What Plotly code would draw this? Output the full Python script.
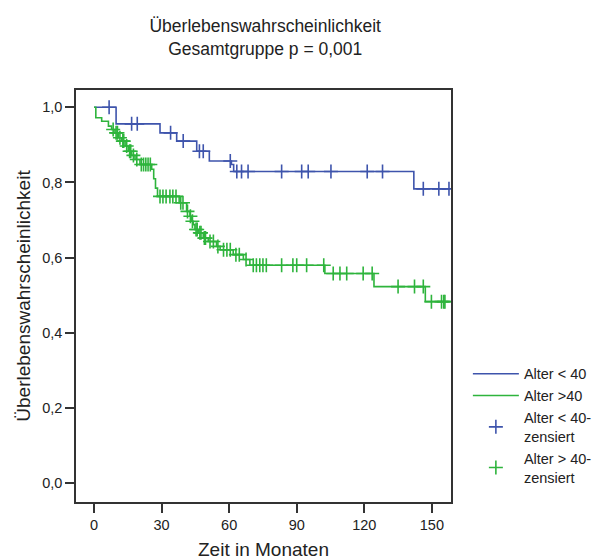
import numpy as np
import plotly.graph_objects as go

# Kaplan-Meier step estimates (time in months, survival after the step)
young_step_t = [0, 9.8, 29.3, 36.7, 45.6, 51.2, 61.0, 62.0, 142.0]
young_step_s = [1.0, 0.956, 0.932, 0.910, 0.883, 0.857, 0.848, 0.829, 0.783]
young_end = 158.0
young_cens = [6.7, 16.7, 19.2, 34.0, 39.6, 46.8, 48.5, 60.5, 63.4, 65.5, 68.4,
              83.3, 92.2, 95.1, 105.2, 121.3, 128.1, 146.2, 153.1, 157.6]

old_step_t = [0, 0.8, 3.4, 6.4, 7.8, 9.3, 10.8, 12.3, 13.8, 15.2, 16.7, 18.2,
              20.4, 25.6, 26.5, 27.3, 28.2, 37.8, 41.1, 42.6, 43.3, 44.1, 44.8,
              46.3, 48.5, 50.7, 54.4, 56.0, 61.8, 66.3, 69.2, 102.5, 124.3, 147.1]
old_step_s = [1.0, 0.972, 0.963, 0.950, 0.941, 0.932, 0.919, 0.910, 0.897, 0.883,
              0.872, 0.861, 0.848, 0.835, 0.810, 0.785, 0.763, 0.746, 0.723, 0.710,
              0.697, 0.688, 0.675, 0.666, 0.652, 0.643, 0.630, 0.621, 0.608, 0.595,
              0.580, 0.558, 0.523, 0.483]
old_end = 158.0
old_cens = [8.5, 9.8, 10.4, 11.5, 12.8, 13.2, 14.5, 15.8, 16.3, 17.5, 19.0, 21.0,
            22.0, 23.0, 24.0, 25.0, 29.3, 30.6, 32.0, 33.7, 35.0, 36.4, 38.5, 39.5,
            41.5, 42.8, 43.7, 45.3, 45.8, 47.0, 47.5, 49.0, 49.5, 51.5, 53.0, 55.0,
            57.5, 59.0, 60.5, 63.0, 64.5, 67.5, 70.7, 72.1, 73.6, 75.0, 76.5, 83.3,
            88.3, 90.0, 94.4, 102.0, 106.2, 109.2, 112.2, 119.5, 123.5, 135.0, 142.3,
            146.2, 149.8, 154.3, 155.3, 155.8]

x_ticks = [0, 30, 60, 90, 120, 150]
y_ticks = [0.0, 0.2, 0.4, 0.6, 0.8, 1.0]

BLUE = "rgb(62,84,172)"
GREEN = "rgb(46,180,60)"
FONT = "Liberation Sans, Arial, sans-serif"


def step_value(times, surv, t):
    idx = np.searchsorted(np.asarray(times), t, side="right") - 1
    return surv[max(idx, 0)]


fig = go.Figure()

for name, st, ss, end, col in [("Alter < 40", young_step_t, young_step_s, young_end, BLUE),
                               ("Alter >40", old_step_t, old_step_s, old_end, GREEN)]:
    fig.add_trace(go.Scatter(
        x=list(st) + [end], y=list(ss) + [ss[-1]],
        mode="lines", line=dict(color=col, width=1.6, shape="hv"),
        name=name, hoverinfo="skip"))

for name, st, ss, cens, col in [("Alter < 40-<br>zensiert", young_step_t, young_step_s, young_cens, BLUE),
                                ("Alter > 40-<br>zensiert", old_step_t, old_step_s, old_cens, GREEN)]:
    fig.add_trace(go.Scatter(
        x=cens, y=[step_value(st, ss, c) for c in cens],
        mode="markers", name=name,
        marker=dict(symbol="cross-thin", size=10, line=dict(color=col, width=1.6))))

fig.update_layout(
    width=596, height=560,
    margin=dict(l=76, r=145, t=90, b=58, autoexpand=False),
    paper_bgcolor="white", plot_bgcolor="white",
    separators=", ",
    font=dict(family=FONT, size=14, color="#222"),
    title=dict(text="Überlebenswahrscheinlichkeit<br>Gesamtgruppe p = 0,001",
               x=0.445, xanchor="center", y=0.943, yanchor="middle",
               font=dict(family=FONT, size=17.5, color="#222")),
    showlegend=True,
    legend=dict(x=1.045, xanchor="left", y=0.35, yanchor="top",
                bgcolor="rgba(0,0,0,0)", font=dict(family=FONT, size=14.5, color="#222"),
                itemwidth=46),
)

fig.update_xaxes(
    range=[-8, 158.5], tickvals=x_ticks, ticks="outside", ticklen=9, tickwidth=1.5,
    tickcolor="#333", showline=True, linecolor="#333", linewidth=1.5, mirror=True,
    showgrid=False, zeroline=False, tickfont=dict(size=14.5),
    title=dict(text="Zeit in Monaten", font=dict(family=FONT, size=19), standoff=12))

fig.update_yaxes(
    range=[-0.05, 1.046], tickvals=y_ticks, tickformat=".1f", ticks="outside",
    ticklen=9, tickwidth=1.5, tickcolor="#333", showline=True, linecolor="#333",
    linewidth=1.5, mirror=True, showgrid=False, zeroline=False, tickfont=dict(size=14.5),
    title=dict(text="Überlebenswahrscheinlichkeit", font=dict(family=FONT, size=19),
               standoff=7))

fig.write_html("out.html")
